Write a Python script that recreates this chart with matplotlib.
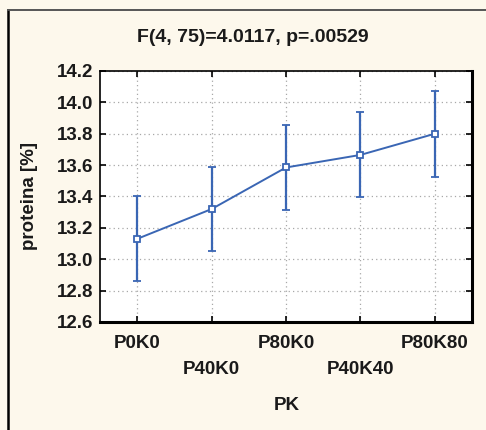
import matplotlib
matplotlib.use('Agg')
import matplotlib.pyplot as plt
from matplotlib.lines import Line2D
import numpy as np

plt.rcParams['font.family'] = ['Liberation Sans', 'DejaVu Sans']
plt.rcParams['font.weight'] = 'bold'

groups = ['P0K0', 'P40K0', 'P80K0', 'P40K40', 'P80K80']
means = [13.13, 13.32, 13.585, 13.665, 13.80]
upper = [13.40, 13.59, 13.855, 13.94, 14.075]
lower = [12.86, 13.05, 13.315, 13.395, 13.525]
yticks = [12.6, 12.8, 13.0, 13.2, 13.4, 13.6, 13.8, 14.0, 14.2]

bg = '#fdf8ec'
blue = '#3a66b4'
txt = '#1a1a1a'
fs = 13.5
W, H = 486, 430

fig = plt.figure(figsize=(W / 100, H / 100), dpi=100, facecolor=bg)
ax = fig.add_axes([100 / W, 1 - 322 / H, 372 / W, 251 / H])
ax.set_facecolor('white')

x = np.arange(len(groups))
m = np.array(means)
err = [m - np.array(lower), np.array(upper) - m]
ax.errorbar(x, m, yerr=err, color=blue, lw=1.4, elinewidth=1.6, capsize=3,
            capthick=1.6, marker='s', ms=5, mfc='white', mec=blue, mew=1.3)

ax.set_xlim(-0.5, len(groups) - 0.5)
ax.set_ylim(12.6, 14.2)
ax.set_yticks(yticks)
ax.set_yticklabels([f'{v:.1f}' for v in yticks], fontsize=fs, fontweight='bold',
                   color=txt)
ax.set_xticks(x)
ax.set_xticklabels([])
ax.tick_params(direction='in', length=4, width=1.2, top=True, right=True, pad=5)
ax.grid(True, linestyle=(0, (1, 2.5)), color='#a8a8a8', lw=0.9)

for i, g in enumerate(groups):
    off = -22 if i % 2 == 0 else -47
    ax.annotate(g, (i, 12.6), xytext=(0, off), textcoords='offset pixels',
                ha='center', va='center', fontsize=fs, fontweight='bold',
                color=txt)

for s in ['left', 'top']:
    ax.spines[s].set_linewidth(1.2)
for s in ['right', 'bottom']:
    ax.spines[s].set_linewidth(2.2)

ax.set_ylabel('proteina [%]', fontsize=fs, fontweight='bold', color=txt)
ax.yaxis.set_label_coords((38 - 100) / 372, 0.5)
fig.text(0.52, 1 - 37 / H, 'F(4, 75)=4.0117, p=.00529', ha='center',
         va='center', fontsize=14, fontweight='bold', color=txt)
fig.text(287 / W, 1 - 405 / H, 'PK', ha='center', va='center',
         fontsize=fs, fontweight='bold', color=txt)

fig.add_artist(Line2D([8 / W, 8 / W], [0, 1 - 10 / H], color='black', lw=1.8,
                      transform=fig.transFigure))
fig.add_artist(Line2D([8 / W, 1], [1 - 10 / H, 1 - 10 / H], color='#555555',
                      lw=1.4, transform=fig.transFigure))

fig.savefig('out.png', dpi=100, facecolor=bg)
